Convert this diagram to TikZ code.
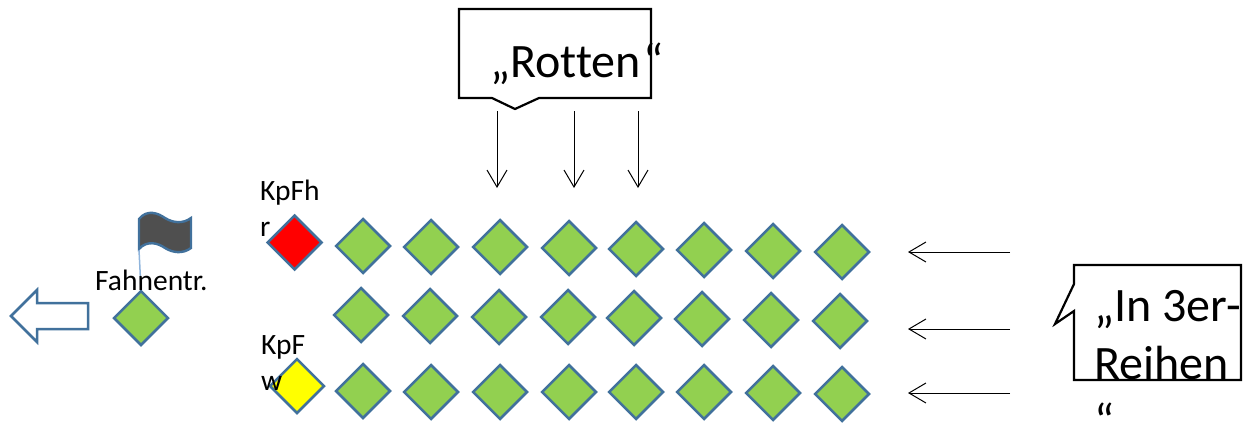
\documentclass[tikz,border=0pt]{standalone}
\usepackage{fontspec}
\setmainfont{Carlito}[Ligatures=NoCommon]
\usetikzlibrary{shapes.geometric,arrows.meta}
\definecolor{rim}{HTML}{41719C}
\definecolor{lawn}{HTML}{92D050}
\definecolor{leadred}{HTML}{FF0000}
\definecolor{deputyyellow}{HTML}{FFFF00}
\definecolor{flagcloth}{HTML}{4F4F4F}
\definecolor{polecolor}{HTML}{8FB4DC}
\tikzset{
  man/.style={diamond,draw=rim,line width=2.5pt,fill=lawn,minimum width=55pt,minimum height=55pt,inner sep=0pt},
  order/.style={draw=black,line width=1pt,-{Straight Barb[length=17pt,width=20pt,line width=1pt]}},
  bubble/.style={draw=black,line width=2.2pt,fill=white},
  small/.style={font=\fontsize{29.5}{36}\selectfont,inner sep=0pt,anchor=base west,align=left},
  bigb/.style={font=\fontsize{48}{58}\selectfont,inner sep=0pt,anchor=base west,align=left}
}
\begin{document}
\begin{tikzpicture}[x=1pt,y=-1pt]
\useasboundingbox (0,0) rectangle (1251,423);
% speech bubbles
\draw[bubble] (459,9) -- (651,9) -- (651,98) -- (539,98) -- (515,109) -- (492,98) -- (459,98) -- cycle;
\draw[bubble] (1074,265) -- (1241,265) -- (1241,380) -- (1074,380) -- (1074,311) -- (1055,324) -- (1074,284) -- cycle;
% flag
\coordinate (poleTop) at (139,250);
\draw[line width=2.4pt,draw=rim,fill=flagcloth] (139,219)
  .. controls (147,209) and (158,213) .. (165,218)
  .. controls (173,223) and (183,224) .. (191,218)
  -- (191,248)
  .. controls (183,254) and (173,253) .. (165,248)
  .. controls (158,243) and (147,240) .. (139,249) -- cycle;
% retreat arrow
\draw[line width=2.5pt,draw=rim,fill=white] (88,303) -- (37,303) -- (37,290) -- (11,316) -- (37,342) -- (37,329) -- (88,329) -- cycle;
% diamonds
\node[man] (flagman) at (141,318) {};
\draw[line width=1.5pt,draw=polecolor] (poleTop) -- (flagman.north);
\node[man,fill=leadred] (leader) at (294.5,242.5) {};
\node[man,fill=deputyyellow] (deputy) at (297,386) {};
\foreach \n/\x/\y in {1/363/246,2/431/247,3/500/247,4/569/248,5/636/249,6/704/250,7/773/251,8/842/252}
  \node[man] (a\n) at (\x,\y) {};
\foreach \n/\x/\y in {1/361/315,2/430/316,3/499/317,4/568/317,5/634/318,6/702/319,7/771/320,8/840/321}
  \node[man] (b\n) at (\x,\y) {};
\foreach \n/\x/\y in {1/363/391,2/431/392,3/500/392,4/569/392,5/636/392,6/704/392,7/773/393,8/842/394}
  \node[man] (c\n) at (\x,\y) {};
% labels
\node[bigb] (rotten) at (490,77) {„Rotten\kern3pt“};
\node[bigb] (reihen) at (1094,437) {„In 3er-\\Reihen\\“};
\node[small] (flagtext) at (95,290) {Fahnentr.};
\node[small] (leadertext) at (260,236) {KpFh\\r};
\node[small] (deputytext) at (261,390) {KpF\\w};
% order arrows
\foreach \n/\x in {1/497,2/574,3/638}{
  \coordinate (ds\n) at (\x,111);
  \coordinate (de\n) at (\x,188);
  \draw[order] (ds\n) -- (de\n);
}
\foreach \n/\y in {1/252,2/329,3/393}{
  \coordinate (rs\n) at (1010,\y);
  \coordinate (re\n) at (908,\y);
  \draw[order] (rs\n) -- (re\n);
}
\end{tikzpicture}
\end{document}
